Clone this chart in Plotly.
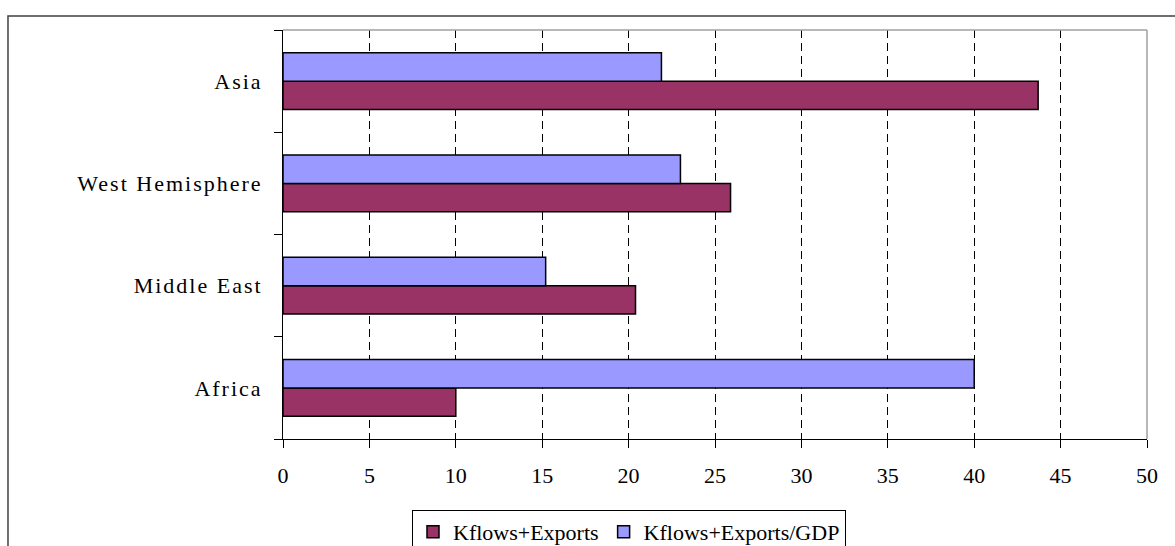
import plotly.graph_objects as go

# Regions listed bottom-to-top as they appear on the category axis
regions = ["Africa", "Middle East", "West Hemisphere", "Asia"]
kflows_exports = [10.0, 20.4, 25.9, 43.7]
kflows_exports_gdp = [40.0, 15.2, 23.0, 21.9]
x_ticks = [0, 5, 10, 15, 20, 25, 30, 35, 40, 45, 50]

SERIF = "Liberation Serif, Times New Roman, serif"

fig = go.Figure()
fig.add_trace(go.Bar(
    y=regions, x=kflows_exports, orientation="h", name="Kflows+Exports",
    marker=dict(color="#993366", line=dict(color="black", width=1.5)),
))
fig.add_trace(go.Bar(
    y=regions, x=kflows_exports_gdp, orientation="h", name="Kflows+Exports/GDP",
    marker=dict(color="#9999FF", line=dict(color="black", width=1.5)),
))

fig.update_layout(
    width=1175, height=546,
    margin=dict(l=283, r=28, t=30, b=107, autoexpand=False),
    barmode="group", bargap=0.447, bargroupgap=0,
    paper_bgcolor="white", plot_bgcolor="white",
    font=dict(family=SERIF, size=22, color="black"),
    showlegend=True,
    legend=dict(
        orientation="h", x=0.1493, xanchor="left", y=-0.1736, yanchor="top",
        bordercolor="black", borderwidth=1, traceorder="normal",
        font=dict(family=SERIF, size=22, color="black"),
    ),
    shapes=[
        # outer chart frame
        dict(type="rect", xref="paper", yref="paper",
             x0=-0.3183, x1=1.06, y0=-0.32, y1=1.0342,
             line=dict(color="#404040", width=1.5), layer="below"),
        # light plot-area border on top and right
        dict(type="line", xref="paper", yref="paper", x0=0, x1=1, y0=1, y1=1,
             line=dict(color="#A0A0A0", width=1.5), layer="above"),
        dict(type="line", xref="paper", yref="paper", x0=1, x1=1, y0=0, y1=1,
             line=dict(color="#A0A0A0", width=1.5), layer="above"),
    ],
)

fig.update_xaxes(
    range=[0, 50], tickvals=x_ticks,
    showgrid=True, gridcolor="black", gridwidth=1, griddash="8px,5px",
    showline=True, linecolor="black", linewidth=1,
    ticks="outside", ticklen=8, tickcolor="black", ticklabelstandoff=9,
    zeroline=False,
)
fig.update_yaxes(
    categoryorder="array", categoryarray=regions, range=[-0.5, 3.5],
    showline=True, linecolor="black", linewidth=1,
    ticks="outside", tickson="boundaries", ticklen=8, tickcolor="black",
    showgrid=False, ticklabelstandoff=15,
)

# Slightly open up the spacing of the region labels
spacing_js = (
    "document.querySelectorAll('.ytick text').forEach(function(t){"
    "t.style.letterSpacing='2px';});"
)

fig.write_html("out.html", post_script=spacing_js)
